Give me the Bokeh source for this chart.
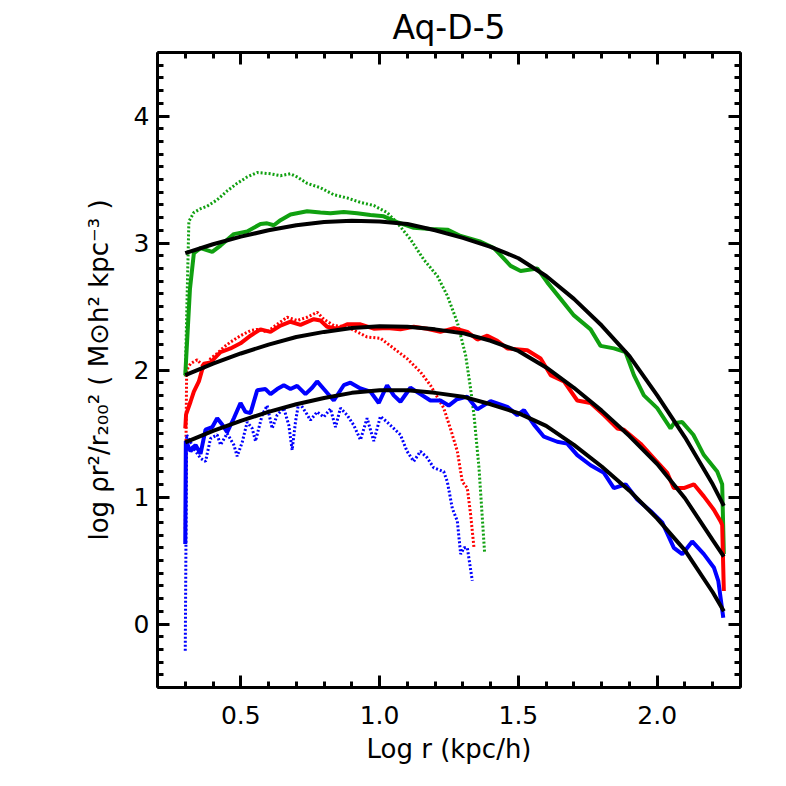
from bokeh.plotting import figure
from bokeh.models import LinearAxis, FixedTicker, Range1d, CustomJSTickFormatter, PrintfTickFormatter
from bokeh.embed import file_html
from bokeh.resources import INLINE

# ---------------- data ----------------
title_text = "Aq-D-5"
x_label = "Log r (kpc/h)"
y_label = "log \u03c1r\u00b2/r\u2082\u2080\u2080\u00b2 ( M\u2299h\u00b2 kpc\u207b\u00b3 )"

x_major = [0.5, 1.0, 1.5, 2.0]
y_major = [0, 1, 2, 3, 4]

# green: solid
gs_x = [0.30, 0.317, 0.331, 0.355, 0.397, 0.427, 0.475, 0.523, 0.571, 0.595,
        0.619, 0.643, 0.679, 0.739, 0.787, 0.823, 0.871, 0.919, 0.967, 1.015,
        1.063, 1.123, 1.183, 1.244, 1.292, 1.364, 1.412, 1.472, 1.508, 1.568,
        1.604, 1.652, 1.70, 1.76, 1.796, 1.844, 1.886, 1.916, 1.952, 2.0,
        2.048, 2.06, 2.09, 2.13, 2.168, 2.216, 2.234, 2.24]
gs_y = [1.96, 2.64, 2.92, 2.96, 2.93, 2.98, 3.07, 3.09, 3.15, 3.155,
        3.14, 3.18, 3.225, 3.25, 3.24, 3.235, 3.245, 3.235, 3.22, 3.21,
        3.165, 3.12, 3.11, 3.105, 3.055, 3.01, 2.96, 2.82, 2.78, 2.80,
        2.69, 2.56, 2.43, 2.32, 2.19, 2.17, 2.14, 1.96, 1.80, 1.70,
        1.54, 1.58, 1.59, 1.49, 1.33, 1.20, 1.10, 0.55]

# red: solid
rs_x = [0.30, 0.303, 0.319, 0.331, 0.349, 0.367, 0.391, 0.427, 0.463, 0.499,
        0.535, 0.571, 0.607, 0.643, 0.679, 0.715, 0.763, 0.787, 0.811, 0.847,
        0.883, 0.931, 0.979, 1.027, 1.075, 1.123, 1.171, 1.219, 1.268, 1.316,
        1.352, 1.388, 1.424, 1.46, 1.532, 1.58, 1.616, 1.664, 1.712, 1.76,
        1.808, 1.856, 1.88, 1.94, 1.988, 2.036, 2.06, 2.096, 2.132, 2.168,
        2.204, 2.228, 2.234, 2.24]
rs_y = [1.54, 1.65, 1.75, 1.83, 1.91, 2.05, 2.06, 2.14, 2.17, 2.21,
        2.27, 2.32, 2.30, 2.35, 2.38, 2.355, 2.40, 2.39, 2.34, 2.325,
        2.36, 2.36, 2.325, 2.33, 2.32, 2.34, 2.325, 2.30, 2.33, 2.30,
        2.24, 2.27, 2.23, 2.17, 2.155, 2.09, 1.96, 1.91, 1.76, 1.74,
        1.645, 1.54, 1.53, 1.42, 1.305, 1.19, 1.07, 1.07, 1.10, 1.005,
        0.90, 0.81, 0.78, 0.26]

# blue: solid
bs_x = [0.30, 0.302, 0.319, 0.337, 0.355, 0.373, 0.397, 0.415, 0.433, 0.451,
        0.475, 0.499, 0.517, 0.535, 0.559, 0.589, 0.607, 0.631, 0.655, 0.679,
        0.703, 0.733, 0.757, 0.775, 0.799, 0.835, 0.871, 0.895, 0.931, 0.967,
        0.997, 1.027, 1.051, 1.075, 1.111, 1.147, 1.183, 1.219, 1.249, 1.279,
        1.316, 1.352, 1.40, 1.46, 1.496, 1.52, 1.556, 1.592, 1.64, 1.676,
        1.712, 1.76, 1.808, 1.844, 1.886, 1.928, 1.976, 2.018, 2.06, 2.09,
        2.126, 2.168, 2.204, 2.22, 2.238]
bs_y = [0.63, 1.44, 1.36, 1.41, 1.34, 1.53, 1.55, 1.62, 1.57, 1.51,
        1.62, 1.74, 1.67, 1.66, 1.84, 1.85, 1.81, 1.85, 1.88, 1.85,
        1.875, 1.81, 1.86, 1.91, 1.85, 1.76, 1.88, 1.90, 1.855, 1.83,
        1.74, 1.88, 1.80, 1.75, 1.86, 1.81, 1.76, 1.76, 1.72, 1.77,
        1.79, 1.69, 1.755, 1.71, 1.645, 1.685, 1.57, 1.475, 1.435, 1.42,
        1.33, 1.25, 1.19, 1.07, 1.10, 0.98, 0.89, 0.80, 0.60, 0.55,
        0.65, 0.55, 0.445, 0.34, 0.05]

# green: dotted
gd_x = [0.30, 0.313, 0.331, 0.355, 0.379, 0.415, 0.451, 0.487, 0.523, 0.559,
        0.607, 0.643, 0.679, 0.703, 0.739, 0.787, 0.835, 0.883, 0.931, 0.979,
        1.027, 1.063, 1.111, 1.159, 1.208, 1.244, 1.28, 1.31, 1.328, 1.34,
        1.358, 1.37, 1.378]
gd_y = [1.95, 3.17, 3.24, 3.27, 3.29, 3.34, 3.41, 3.47, 3.52, 3.555,
        3.545, 3.53, 3.545, 3.52, 3.47, 3.435, 3.38, 3.355, 3.32, 3.295,
        3.24, 3.16, 3.03, 2.87, 2.74, 2.585, 2.375, 2.115, 1.85, 1.645,
        1.23, 0.835, 0.57]

# red: dotted
rd_x = [0.30, 0.305, 0.319, 0.343, 0.373, 0.391, 0.415, 0.439, 0.463, 0.499,
        0.535, 0.559, 0.595, 0.631, 0.667, 0.703, 0.739, 0.775, 0.799, 0.835,
        0.883, 0.919, 0.955, 1.003, 1.051, 1.099, 1.147, 1.183, 1.231, 1.255,
        1.28, 1.298, 1.316, 1.328, 1.34]
rd_y = [0.75, 2.0, 2.05, 2.08, 2.01, 2.09, 2.13, 2.18, 2.22, 2.27,
        2.31, 2.32, 2.30, 2.36, 2.415, 2.39, 2.415, 2.455, 2.40, 2.35,
        2.34, 2.30, 2.26, 2.25, 2.17, 2.09, 1.985, 1.88, 1.70, 1.54,
        1.36, 1.12, 1.07, 0.86, 0.60]

# blue: dotted
bd_x = [0.30, 0.305, 0.331, 0.355, 0.373, 0.391, 0.415, 0.427, 0.451, 0.475,
        0.487, 0.505, 0.523, 0.541, 0.553, 0.577, 0.595, 0.613, 0.631, 0.655,
        0.673, 0.685, 0.697, 0.709, 0.733, 0.751, 0.775, 0.799, 0.823, 0.841,
        0.859, 0.883, 0.907, 0.931, 0.955, 0.979, 1.003, 1.027, 1.051, 1.075,
        1.099, 1.123, 1.147, 1.171, 1.195, 1.231, 1.244, 1.262, 1.28, 1.292,
        1.304, 1.316, 1.334]
bd_y = [-0.21, 1.49, 1.38, 1.305, 1.28, 1.46, 1.49, 1.41, 1.50, 1.41,
        1.32, 1.43, 1.59, 1.54, 1.44, 1.645, 1.72, 1.54, 1.645, 1.70,
        1.565, 1.37, 1.59, 1.75, 1.67, 1.605, 1.67, 1.63, 1.695, 1.55,
        1.70, 1.645, 1.565, 1.45, 1.62, 1.44, 1.635, 1.59, 1.54, 1.49,
        1.36, 1.28, 1.36, 1.31, 1.23, 1.20, 1.12, 0.91, 0.81, 0.55,
        0.60, 0.60, 0.34]

# black fits
fit_x = [0.30, 0.40, 0.50, 0.60, 0.70, 0.80, 0.90, 1.00, 1.10, 1.20,
         1.30, 1.40, 1.50, 1.60, 1.70, 1.80, 1.90, 2.00, 2.10, 2.20, 2.24]
gf_y = [2.92, 2.99, 3.05, 3.10, 3.14, 3.165, 3.175, 3.17, 3.15, 3.10,
        3.04, 2.97, 2.88, 2.74, 2.56, 2.35, 2.11, 1.80, 1.47, 1.10, 0.93]
rf_y = [1.96, 2.05, 2.13, 2.20, 2.26, 2.30, 2.33, 2.345, 2.34, 2.32,
        2.29, 2.23, 2.15, 2.02, 1.86, 1.68, 1.48, 1.26, 0.99, 0.66, 0.53]
bf_y = [1.43, 1.52, 1.60, 1.67, 1.73, 1.78, 1.82, 1.84, 1.84, 1.82,
        1.79, 1.73, 1.66, 1.56, 1.41, 1.24, 1.05, 0.83, 0.58, 0.25, 0.10]

GREEN = "#10a010"
RED = "#ff0000"
BLUE = "#0000ff"
FONT = "DejaVu Sans"

# ---------------- figure ----------------
p = figure(width=770, height=770,
           x_range=Range1d(0.2, 2.3), y_range=Range1d(-0.5, 4.5),
           output_backend="svg", toolbar_location=None,
           min_border_left=157, min_border_right=30,
           min_border_top=49, min_border_bottom=83)
p.grid.visible = False
p.outline_line_color = None
p.background_fill_color = "white"
p.border_fill_color = "white"

p.title.text = title_text
p.title.align = "center"
p.title.text_font = FONT
p.title.text_font_size = "33px"
p.title.text_font_style = "normal"
p.title.text_color = "black"
p.title.standoff = 11

x_minor = [round(0.2 + 0.1 * i, 2) for i in range(22)]
y_minor = [round(-0.5 + 0.1 * i, 2) for i in range(51)]


def style_axis(ax, major, minor):
    ax.ticker = FixedTicker(ticks=major, minor_ticks=minor)
    ax.axis_line_width = 3
    ax.axis_line_color = "black"
    ax.major_tick_line_width = 3
    ax.minor_tick_line_width = 3
    ax.major_tick_in = 12
    ax.major_tick_out = 0
    ax.minor_tick_in = 6
    ax.minor_tick_out = 0
    ax.major_label_text_font = FONT
    ax.major_label_text_font_size = "25px"
    ax.major_label_text_color = "black"
    ax.axis_label_text_font = FONT
    ax.axis_label_text_font_size = "26px"
    ax.axis_label_text_font_style = "normal"
    ax.axis_label_text_color = "black"


xa = p.xaxis[0]
style_axis(xa, x_major, x_minor)
xa.formatter = PrintfTickFormatter(format="%.1f")
xa.major_label_standoff = 18
xa.axis_label = x_label
xa.axis_label_standoff = 7

ya = p.yaxis[0]
style_axis(ya, y_major, y_minor)
ya.formatter = PrintfTickFormatter(format="%d")
ya.major_label_standoff = 8
ya.axis_label = y_label
ya.axis_label_standoff = 17

top = LinearAxis()
style_axis(top, x_major, x_minor)
top.formatter = CustomJSTickFormatter(code="return ''")
top.major_label_standoff = 0
p.add_layout(top, "above")

right = LinearAxis()
style_axis(right, y_major, y_minor)
right.formatter = CustomJSTickFormatter(code="return ''")
right.major_label_standoff = 0
p.add_layout(right, "right")

# dotted
p.line(gd_x, gd_y, line_color=GREEN, line_width=3, line_dash="2 2")
p.line(rd_x, rd_y, line_color=RED, line_width=3, line_dash="2 2")
p.line(bd_x, bd_y, line_color=BLUE, line_width=3, line_dash="2 2")
# solid
p.line(gs_x, gs_y, line_color=GREEN, line_width=4)
p.line(rs_x, rs_y, line_color=RED, line_width=4)
p.line(bs_x, bs_y, line_color=BLUE, line_width=4)
# fits
p.line(fit_x, gf_y, line_color="black", line_width=4)
p.line(fit_x, rf_y, line_color="black", line_width=4)
p.line(fit_x, bf_y, line_color="black", line_width=4)

open("out.html", "w").write(file_html(p, INLINE))
